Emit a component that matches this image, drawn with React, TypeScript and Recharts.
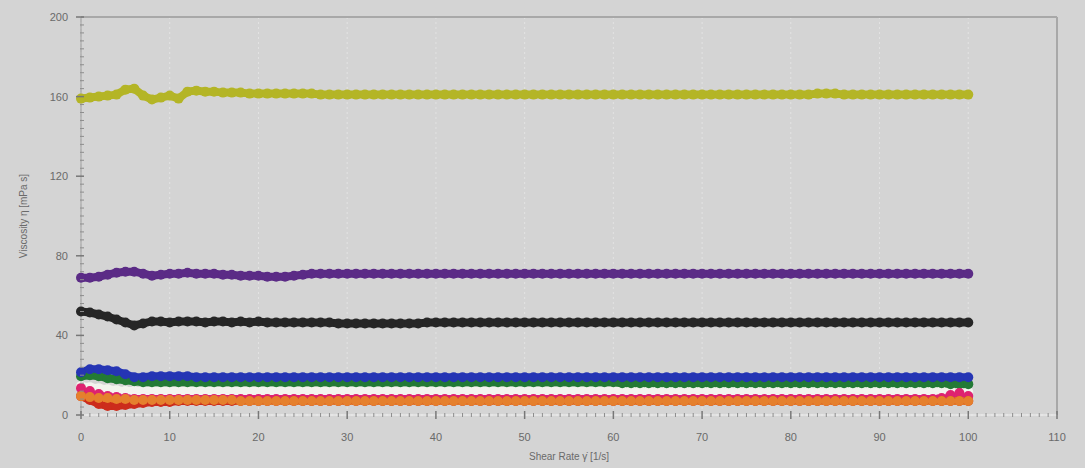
import React from 'react';
import { LineChart, Line, XAxis, YAxis, CartesianGrid, ReferenceLine } from 'recharts';

// shear rate, 1/s
const shearRate = [
  0, 1, 2, 3, 4, 5, 6, 7, 8, 9, 10, 11, 12, 13, 14, 15, 16, 17, 18, 19, 20,
  21, 22, 23, 24, 25, 26, 27, 28, 29, 30, 31, 32, 33, 34, 35, 36, 37, 38, 39, 40,
  41, 42, 43, 44, 45, 46, 47, 48, 49, 50, 51, 52, 53, 54, 55, 56, 57, 58, 59, 60,
  61, 62, 63, 64, 65, 66, 67, 68, 69, 70, 71, 72, 73, 74, 75, 76, 77, 78, 79, 80,
  81, 82, 83, 84, 85, 86, 87, 88, 89, 90, 91, 92, 93, 94, 95, 96, 97, 98, 99, 100,
];

// viscosity, mPa s
const olive = [
  159, 159.5, 160, 160.5, 161, 163.5, 164, 160.5, 158.5, 159.5, 160.5, 159, 162.5, 163, 162.5, 162.5, 162, 162, 162, 161.5, 161.5,
  161.5, 161.5, 161.5, 161.5, 161.5, 161.5, 161, 161, 161, 161, 161, 161, 161, 161, 161, 161, 161, 161, 161, 161,
  161, 161, 161, 161, 161, 161, 161, 161, 161, 161, 161, 161, 161, 161, 161, 161, 161, 161, 161, 161,
  161, 161, 161, 161, 161, 161, 161, 161, 161, 161, 161, 161, 161, 161, 161, 161, 161, 161, 161, 161,
  161, 161, 161.5, 161.5, 161.5, 161, 161, 161, 161, 161, 161, 161, 161, 161, 161, 161, 161, 161, 161, 161,
];
const purple = [
  69, 69, 69.5, 70.5, 71.5, 72, 72, 71, 70, 70.5, 71, 71, 71.5, 71, 71, 71, 70.5, 70.5, 70, 70, 70,
  69.5, 69.5, 69.5, 70, 70.5, 71, 71, 71, 71, 71, 71, 71, 71, 71, 71, 71, 71, 71, 71, 71,
  71, 71, 71, 71, 71, 71, 71, 71, 71, 71, 71, 71, 71, 71, 71, 71, 71, 71, 71, 71,
  71, 71, 71, 71, 71, 71, 71, 71, 71, 71, 71, 71, 71, 71, 71, 71, 71, 71, 71, 71,
  71, 71, 71, 71, 71, 71, 71, 71, 71, 71, 71, 71, 71, 71, 71, 71, 71, 71, 71, 71,
];
const black = [
  52, 51.5, 50.5, 49.5, 48, 46.5, 45, 46, 47, 47, 46.5, 47, 47, 47, 46.5, 47, 47, 46.5, 47, 46.5, 47,
  46.5, 46.5, 46.5, 46.5, 46.5, 46.5, 46.5, 46.5, 46, 46, 46, 46, 46, 46, 46, 46, 46, 46, 46.5, 46.5,
  46.5, 46.5, 46.5, 46.5, 46.5, 46.5, 46.5, 46.5, 46.5, 46.5, 46.5, 46.5, 46.5, 46.5, 46.5, 46.5, 46.5, 46.5, 46.5, 46.5,
  46.5, 46.5, 46.5, 46.5, 46.5, 46.5, 46.5, 46.5, 46.5, 46.5, 46.5, 46.5, 46.5, 46.5, 46.5, 46.5, 46.5, 46.5, 46.5, 46.5,
  46.5, 46.5, 46.5, 46.5, 46.5, 46.5, 46.5, 46.5, 46.5, 46.5, 46.5, 46.5, 46.5, 46.5, 46.5, 46.5, 46.5, 46.5, 46.5, 46.5,
];
const pale = [
  14.5, 14, 13.5, 13, 12.5, 12, 12, 12, 12, 12, 12, 12, 12, 12, 12, 12, 12, 12, 12, 12, 12,
  12, 12, 12, 12, 12, 12, 12, 12, 12, 12, 12, 12, 12, 12, 12, 12, 12, 12, 12, 12,
  12, 12, 12, 12, 12, 12, 12, 12, 12, 12, 12, 12, 12, 12, 12, 12, 12, 12, 12, 12,
  12, 12, 12, 12, 12, 12, 12, 12, 12, 12, 12, 12, 12, 12, 12, 12, 12, 12, 12, 12,
  12, 12, 12, 12, 12, 12, 12, 12, 12, 12, 12, 12, 12, 12, 12, 12, 12, 12, 11.5, 11.5, 11.5,
];
const green = [
  19.5, 20, 19.5, 18.5, 18, 17.5, 17, 16.5, 16.5, 16.5, 16.5, 16.5, 16.5, 16.5, 16.5, 16.5, 16.5, 16.5, 16.5, 16.5, 16.5,
  16.5, 16.5, 16.5, 16.5, 16.5, 16.5, 16.5, 16.5, 16.5, 16.5, 16.5, 16.5, 16.5, 16.5, 16.5, 16.5, 16.5, 16.5, 16.5, 16.5,
  16.5, 16.5, 16.5, 16.5, 16.5, 16.5, 16.5, 16.5, 16.5, 16.5, 16.5, 16.5, 16.5, 16.5, 16.5, 16.5, 16.5, 16.5, 16.5, 16.5,
  16, 16, 16, 16, 16, 16, 16, 16, 16, 16, 16, 16, 16, 16, 16, 16, 16, 16, 16, 16,
  16, 16, 16, 16, 16, 16, 16, 16, 16, 16, 16, 16, 16, 16, 16, 16, 16, 15.5, 15.5, 15.5,
];
const blue = [
  21.5, 23, 23, 22.5, 22, 20.5, 19, 19, 19.5, 19.5, 19.5, 19.5, 19.5, 19, 19, 19, 19, 19, 19, 19, 19,
  19, 19, 19, 19, 19, 19, 19, 19, 19, 19, 19, 19, 19, 19, 19, 19, 19, 19, 19, 19,
  19, 19, 19, 19, 19, 19, 19, 19, 19, 19, 19, 19, 19, 19, 19, 19, 19, 19, 19, 19,
  19, 19, 19, 19, 19, 19, 19, 19, 19, 19, 19, 19, 19, 19, 19, 19, 19, 19, 19, 19,
  19, 19, 19, 19, 19, 19, 19, 19, 19, 19, 19, 19, 19, 19, 19, 19, 19, 19, 19, 19,
];
const pink = [
  13.5, 12, 10.5, 9.5, 9, 8.5, 8, 8, 8, 8, 8, 8, 8, 8, 8, 8, 8, 8, 8, 8, 8,
  8, 8, 8, 8, 8, 8, 8, 8, 8, 8, 8, 8, 8, 8, 8, 8, 8, 8, 8, 8,
  8, 8, 8, 8, 8, 8, 8, 8, 8, 8, 8, 8, 8, 8, 8, 8, 8, 8, 8, 8,
  8, 8, 8, 8, 8, 8, 8, 8, 8, 8, 8, 8, 8, 8, 8, 8, 8, 8, 8, 8,
  8, 8, 8, 8, 8, 8, 8, 8, 8, 8, 8, 8, 8, 8, 8, 8, 8.5, 10, 11, 9.5, 8,
];
const red = [
  9.5, 7.5, 5.5, 4.5, 4.5, 5, 5.5, 6, 6.5, 6.5, 6.5, 7, 7, 7, 7, 7, 7, 7, 7, 7, 7,
  7, 7, 7, 7, 7, 7, 7, 7, 7, 7, 7, 7, 7, 7, 7, 7, 7, 7, 7, 7,
  7, 7, 7, 7, 7, 7, 7, 7, 7, 7, 7, 7, 7, 7, 7, 7, 7, 7, 7, 7,
  7, 7, 7, 7, 7, 7, 7, 7, 7, 7, 7, 7, 7, 7, 7, 7, 7, 7, 7, 7,
  7, 7, 7, 7, 7, 7, 7, 7, 7, 7, 7, 7, 7, 7, 7, 7, 7, 7, 7, 7,
];
const orange = [
  9.5, 9, 8.5, 8.5, 8, 8, 7.5, 7.5, 7.5, 7.5, 7.5, 7.5, 7.5, 7.5, 7.5, 7.5, 7.5, 7.5, 7, 7, 7,
  7, 7, 7, 7, 7, 7, 7, 7, 7, 7, 7, 7, 7, 7, 7, 7, 7, 7, 7, 7,
  7, 7, 7, 7, 7, 7, 7, 7, 7, 7, 7, 7, 7, 7, 7, 7, 7, 7, 7, 7,
  7, 7, 7, 7, 7, 7, 7, 7, 7, 7, 7, 7, 7, 7, 7, 7, 7, 7, 7, 7,
  7, 7, 7, 7, 7, 7, 7, 7, 7, 7, 7, 7, 7, 7, 7, 7, 7, 7, 7, 7,
];

const xTicks = [0, 10, 20, 30, 40, 50, 60, 70, 80, 90, 100, 110];
const yTicks = [0, 40, 80, 120, 160, 200];
const xMinor = Array.from({ length: 111 }, (_, i) => i);
const yMinor = Array.from({ length: 51 }, (_, i) => i * 4);

const seriesList = [
  { key: 'olive', values: olive, color: '#b4b526' },
  { key: 'purple', values: purple, color: '#5b2b86' },
  { key: 'black', values: black, color: '#262626' },
  { key: 'pale', values: pale, color: '#f3f4ee' },
  { key: 'green', values: green, color: '#237a35' },
  { key: 'blue', values: blue, color: '#2535b4' },
  { key: 'pink', values: pink, color: '#de2270' },
  { key: 'red', values: red, color: '#cc2c1c' },
  { key: 'orange', values: orange, color: '#e5802d' },
];

const data = shearRate.map((x, i) => {
  const row: Record<string, number> = { x };
  seriesList.forEach((s) => { row[s.key] = s.values[i]; });
  return row;
});

const font = 'Liberation Sans, Arial, sans-serif';
const labelStyle = { fill: '#6a6a6a', fontSize: 10, fontFamily: font };

// x ticks: small mark every 1, long mark + label every 10
const XTick = (props: any) => {
  const { x, y, payload } = props;
  const v = payload.value;
  const major = xTicks.includes(v);
  return (
    <g>
      <line x1={x} x2={x} y1={major ? y - 4 : y - 2} y2={major ? y + 4 : y + 2} stroke={major ? '#777' : '#8d8d8d'} strokeWidth={major ? 1.5 : 1} />
      {major && (
        <text x={x} y={y + 26} textAnchor="middle" fill="#6a6a6a" fontSize={11} fontFamily={font}>{v}</text>
      )}
    </g>
  );
};

// y ticks: small mark every 4, long mark + label every 40
const YTick = (props: any) => {
  const { x, y, payload } = props;
  const v = payload.value;
  const major = yTicks.includes(v);
  return (
    <g>
      <line x1={major ? x - 5 : x - 1} x2={x + 3} y1={y} y2={y} stroke={major ? '#777' : '#8d8d8d'} strokeWidth={major ? 1.5 : 1} />
      {major && (
        <text x={x - 13} y={y + 4} textAnchor="end" fill="#6a6a6a" fontSize={11} fontFamily={font}>{v}</text>
      )}
    </g>
  );
};

export default function App() {
  return (
    <div style={{ width: 1085, height: 468, background: '#d4d4d4', position: 'absolute', left: 0, top: 0 }}>
      <style>{'body{margin:0}'}</style>
      <LineChart width={1085} height={468} data={data} margin={{ top: 17, right: 28, left: 19, bottom: 5 }}>
        <XAxis xAxisId="grid" type="number" dataKey="x" domain={[0, 110]} ticks={xTicks} hide />
        <YAxis yAxisId="grid" type="number" domain={[0, 200]} ticks={yTicks} hide />
        <CartesianGrid xAxisId="grid" yAxisId="grid" stroke="#e3e3e3" strokeDasharray="2 3" />
        <XAxis type="number" dataKey="x" domain={[0, 110]} ticks={xMinor} interval={0} height={48}
          tick={<XTick />} tickSize={0} tickMargin={0} tickLine={false}
          axisLine={{ stroke: '#f0f0f0' }}
          label={{ value: 'Shear Rate γ̇ [1/s]', position: 'insideBottom', offset: 3, style: labelStyle }} />
        <YAxis type="number" domain={[0, 200]} ticks={yMinor} interval={0} width={62}
          tick={<YTick />} tickSize={0} tickMargin={0} tickLine={false}
          axisLine={{ stroke: '#999' }}
          label={{ value: 'Viscosity η [mPa s]', angle: -90, position: 'insideLeft', offset: 4, style: { ...labelStyle, textAnchor: 'middle' } }} />
        <ReferenceLine y={200} stroke="#a8a8a8" strokeWidth={2} />
        <ReferenceLine x={110} stroke="#a8a8a8" strokeWidth={2} />
        {seriesList.map((s) => (
          <Line key={s.key} type="linear" dataKey={s.key} stroke={s.color} strokeWidth={8}
            dot={{ r: 5, fill: s.color, stroke: s.color, strokeWidth: 0 }}
            isAnimationActive={false} />
        ))}
      </LineChart>
    </div>
  );
}
